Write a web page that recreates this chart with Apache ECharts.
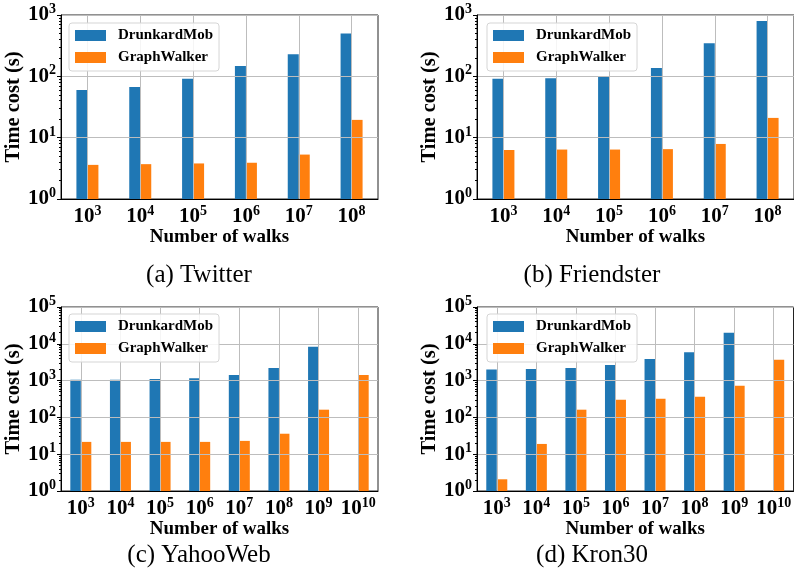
<!DOCTYPE html>
<html>
<head>
<meta charset="utf-8">
<script src="https://cdn.jsdelivr.net/npm/echarts@6/dist/echarts.min.js"></script>
<style>
  html, body { margin: 0; padding: 0; background: #fff; }
  #main { width: 794px; height: 585px; }
</style>
</head>
<body>
<div id="main"></div>
<script>
// exponents of the number of walks (10^x)
var walksSmall = [3, 4, 5, 6, 7, 8];
var walksLarge = [3, 4, 5, 6, 7, 8, 9, 10];

var twitterDM = [60, 67, 91, 148, 229, 500];
var twitterGW = [3.6, 3.7, 3.8, 3.9, 5.3, 19.5];
var friendsterDM = [91, 93, 100, 137, 347, 800];
var friendsterGW = [6.3, 6.4, 6.4, 6.5, 7.9, 21];
var yahooDM = [1050, 1060, 1100, 1150, 1420, 2200, 8300, null];
var yahooGW = [21.6, 21.6, 21.6, 21.6, 23, 36, 162, 1420];
var kronDM = [2000, 2080, 2200, 2650, 3870, 5900, 19900, null];
var kronGW = [2.08, 19, 162, 300, 322, 363, 725, 3700];

var captions = ['(a) Twitter', '(b) Friendster', '(c) YahooWeb', '(d) Kron30'];

var serif = '"Liberation Serif", "Times New Roman", serif';

var powRich = {
    b: { fontFamily: serif, fontWeight: 'bold', fontSize: 21, color: '#000' },
    s: { fontFamily: serif, fontWeight: 'bold', fontSize: 14, color: '#000', padding: [0, 0, 11, 0] }
};

var panels = [
    { left: 61, top: 15, width: 317, cats: walksSmall, dm: twitterDM, gw: twitterGW, max: 1000, bw: 11, lx: 69, ly: 23 },
    { left: 477, top: 15, width: 320, cats: walksSmall, dm: friendsterDM, gw: friendsterGW, max: 1000, bw: 11, lx: 487, ly: 23 },
    { left: 61, top: 307, width: 317, cats: walksLarge, dm: yahooDM, gw: yahooGW, max: 100000, bw: 10.5, lx: 69, ly: 314 },
    { left: 477, top: 307, width: 320, cats: walksLarge, dm: kronDM, gw: kronGW, max: 100000, bw: 10.5, lx: 487, ly: 314 }
];

var grids = [], xAxes = [], yAxes = [], series = [], legends = [], graphics = [];

panels.forEach(function (p, i) {
    grids.push({
        left: p.left, top: p.top, width: p.width, height: 184,
        show: true, borderColor: '#222', borderWidth: 1
    });
    xAxes.push({
        type: 'category', gridIndex: i, z: 3,
        data: p.cats,
        name: 'Number of walks', nameLocation: 'middle', nameGap: 27,
        nameTextStyle: { fontFamily: serif, fontWeight: 'bold', fontSize: 19, color: '#000' },
        axisLine: { lineStyle: { color: '#000' } },
        axisTick: { alignWithLabel: true, interval: 0, length: 4, lineStyle: { color: '#000' } },
        axisLabel: {
            margin: 5, interval: 0, hideOverlap: false,
            formatter: function (v) { return '{b|10}{s|' + v + '}'; },
            rich: powRich
        },
        splitLine: { show: true, alignWithLabel: true, interval: 0, lineStyle: { color: '#bdbdbd', width: 1 } }
    });
    yAxes.push({
        type: 'log', logBase: 10, gridIndex: i, z: 3,
        min: 1, max: p.max,
        name: 'Time cost (s)', nameLocation: 'middle', nameGap: 37,
        nameTextStyle: { fontFamily: serif, fontWeight: 'bold', fontSize: 20.5, color: '#000' },
        axisLine: { show: true, lineStyle: { color: '#000' } },
        axisTick: { show: true, length: 4, lineStyle: { color: '#000' } },
        minorTick: { show: true, splitNumber: 9, length: 2, lineStyle: { color: '#000' } },
        axisLabel: {
            margin: 5,
            formatter: function (v) { return '{b|10}{s|' + Math.round(Math.log10(v)) + '}'; },
            rich: powRich
        },
        splitLine: { show: true, lineStyle: { color: '#bdbdbd', width: 1 } }
    });
    series.push({
        name: 'DrunkardMob', type: 'bar', xAxisIndex: i, yAxisIndex: i,
        barWidth: p.bw, barGap: '0%', data: p.dm,
        itemStyle: { color: '#1f77b4' }
    });
    series.push({
        name: 'GraphWalker', type: 'bar', xAxisIndex: i, yAxisIndex: i,
        barWidth: p.bw, barGap: '0%', data: p.gw,
        itemStyle: { color: '#ff7f0e' }
    });
    legends.push({
        data: ['DrunkardMob', 'GraphWalker'],
        orient: 'vertical', left: p.lx, top: p.ly,
        icon: 'rect', itemWidth: 31, itemHeight: 11, itemGap: 7,
        padding: [5, 6, 6, 6],
        backgroundColor: 'rgba(255,255,255,0.85)',
        borderColor: '#d5d5d5', borderWidth: 1, borderRadius: 3,
        selectedMode: false,
        textStyle: { fontFamily: serif, fontWeight: 'bold', fontSize: 15, lineHeight: 15, color: '#000', padding: [0, 0, 0, 7] }
    });
    graphics.push({
        type: 'text',
        x: i % 2 === 0 ? 199 : 592,
        y: i < 2 ? 275 : 555,
        style: {
            text: captions[i], textAlign: 'center', textVerticalAlign: 'middle',
            fontFamily: serif, fontSize: 25, fill: '#000'
        }
    });
});

var chart = echarts.init(document.getElementById('main'));
chart.setOption({
    animation: false,
    grid: grids,
    xAxis: xAxes,
    yAxis: yAxes,
    legend: legends,
    series: series,
    graphic: graphics
});
</script>
</body>
</html>
